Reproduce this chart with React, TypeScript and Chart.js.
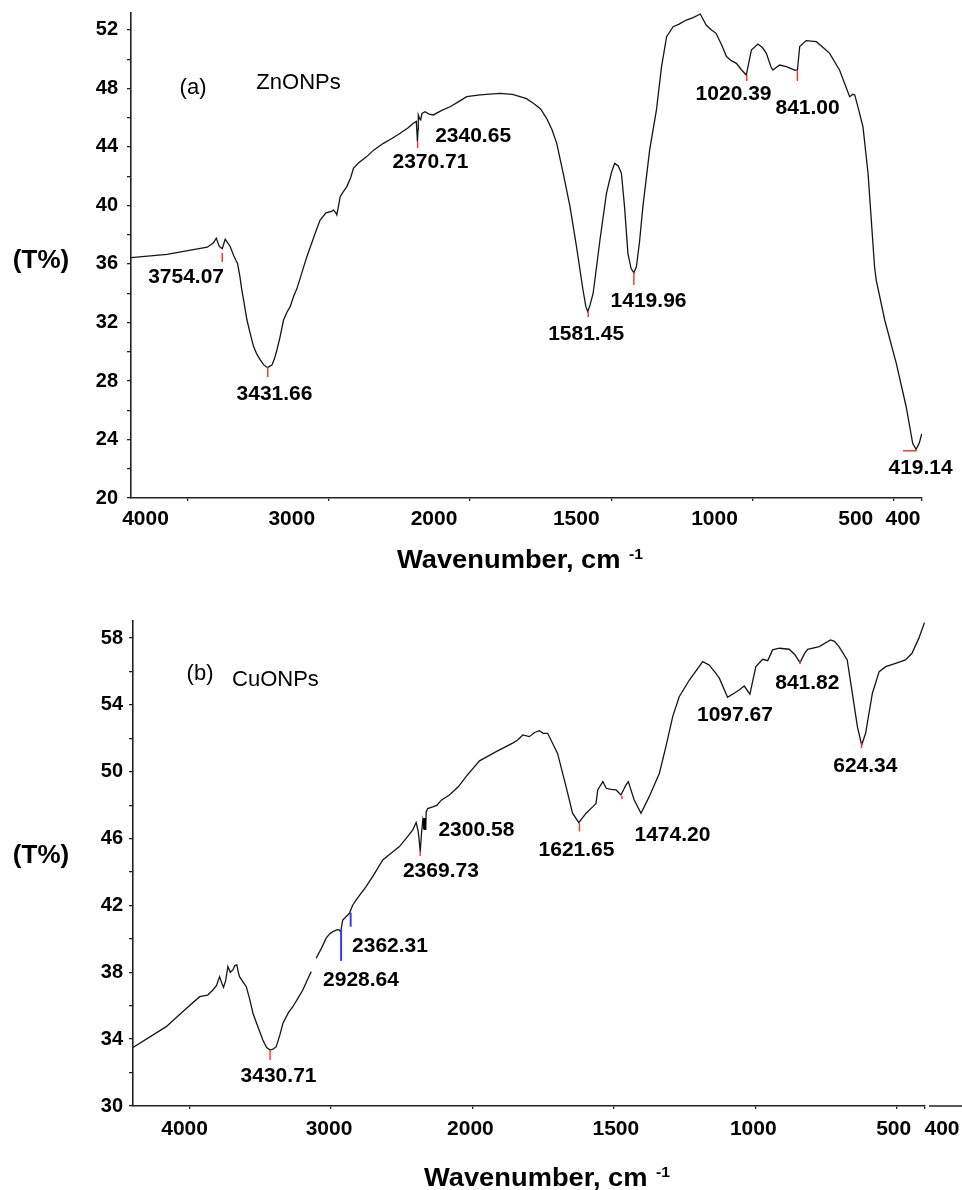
import React, { useEffect, useRef } from 'react';
import { Chart, LinearScale, registerables } from 'chart.js';

Chart.register(...registerables);

// ---------------- shared axis values ----------------
const xTickValues = [4000, 3000, 2000, 1500, 1000, 500, 400];
const xTickLabels = ['4000', '3000', '2000', '1500', '1000', '500', '400'];

// ---------------- (a) ZnONPs ----------------
const znWavenumber = [4400, 4145, 3909, 3860, 3830, 3815, 3796, 3775, 3754, 3733,
  3715, 3697, 3674, 3655, 3646, 3630, 3615, 3603, 3579, 3555,
  3532, 3510, 3485, 3460, 3438, 3431, 3420, 3402, 3385, 3367,
  3345, 3320, 3296, 3273, 3250, 3226, 3200, 3155, 3100, 3061,
  3020, 2980, 2967, 2950, 2943, 2930, 2919, 2900, 2872, 2845,
  2825, 2790, 2731, 2680, 2613, 2550, 2495, 2440, 2401, 2380,
  2372, 2368, 2366, 2355, 2349, 2340, 2318, 2290, 2259, 2200,
  2141, 2080, 2023, 1965, 1894, 1850, 1823, 1800, 1776, 1750,
  1729, 1710, 1693, 1670, 1646, 1623, 1600, 1590, 1583, 1575,
  1564, 1540, 1517, 1500, 1488, 1475, 1464, 1453, 1441, 1430,
  1420, 1411, 1400, 1388, 1364, 1340, 1322, 1304, 1281, 1260,
  1234, 1210, 1185, 1164, 1145, 1129, 1110, 1092, 1075, 1057,
  1040, 1022, 1004, 981, 965, 951, 935, 928, 904, 880,
  851, 841, 833, 810, 774, 750, 727, 692, 656, 645,
  638, 625, 609, 591, 568, 562, 532, 491, 456, 433,
  421, 410, 401];
const znTransmittance = [36.43, 36.66, 37.07, 37.15, 37.35, 37.46, 37.76, 37.2, 37.05, 37.69,
  37.45, 37.18, 36.6, 36.2, 36.05, 35.2, 34.2, 33.54, 32.17, 31.2,
  30.35, 29.85, 29.44, 29.1, 28.94, 28.92, 29.0, 29.09, 29.5, 30.12,
  31.0, 32.17, 32.7, 33.08, 33.76, 34.3, 35.1, 36.5, 38.0, 39.0,
  39.5, 39.6, 39.69, 39.5, 39.35, 40.0, 40.6, 40.9, 41.29, 41.9,
  42.54, 42.9, 43.34, 43.8, 44.25, 44.6, 44.94, 45.3, 45.62, 45.75,
  44.36, 45.2, 46.19, 45.9, 45.85, 46.3, 46.41, 46.25, 46.19, 46.5,
  46.75, 47.1, 47.44, 47.56, 47.67, 47.6, 47.44, 47.3, 46.99, 46.6,
  45.96, 45.2, 44.25, 42.2, 39.92, 37.18, 34.22, 33.1, 32.74, 33.2,
  34.0, 37.64, 40.83, 42.2, 42.88, 42.7, 42.2, 39.92, 36.73, 35.7,
  35.4, 35.81, 37.5, 39.92, 43.8, 46.53, 49.49, 51.54, 52.22, 52.4,
  52.68, 52.85, 53.09, 52.34, 52.0, 51.77, 51.0, 50.18, 49.9, 49.72,
  49.3, 48.92, 50.63, 51.04, 50.8, 50.4, 49.5, 49.26, 49.6, 49.5,
  49.26, 49.25, 50.86, 51.27, 51.2, 50.8, 50.4, 49.26, 47.44, 47.6,
  47.56, 46.6, 45.39, 42.2, 35.81, 34.9, 32.17, 29.21, 26.24, 23.74,
  23.33, 23.74, 24.38];
const znYTicks = [20, 22, 24, 26, 28, 30, 32, 34, 36, 38, 40, 42, 44, 46, 48, 50, 52];
const znYTickLabels = ['20', '', '24', '', '28', '', '32', '', '36', '', '40', '', '44', '', '48', '', '52'];
// peak labels (text, anchor wavenumber, anchor %T)
const znPeakText = ['3754.07', '3431.66', '2370.71', '2340.65', '1581.45', '1419.96', '1020.39', '841.00', '419.14'];
const znPeakTextWn = [4010, 3384, 2280, 1989, 1589, 1368, 1067, 805, 405];
const znPeakTextT = [35.11, 27.08, 42.94, 44.75, 31.18, 33.47, 47.62, 46.63, 22.02];
// peak markers (segment from wnA,TA to wnB,TB)
const znMarkWnA = [3754.07, 3431.66, 2370.71, 1581.45, 1419.96, 1020.39, 841.0, 467];
const znMarkWnB = [3754.07, 3431.66, 2370.71, 1581.45, 1419.96, 1020.39, 841.0, 418];
const znMarkTA = [36.75, 28.96, 44.34, 32.72, 35.45, 48.92, 49.26, 23.23];
const znMarkTB = [36.14, 28.27, 43.93, 32.38, 34.56, 48.51, 48.51, 23.23];
const znMarkColor = ['#ff2a2a', '#ff2a2a', '#ff2a2a', '#ff2a2a', '#ff2a2a', '#ff2a2a', '#ff2a2a', '#ff2a2a'];
const znTitleText = ['(a)', 'ZnONPs'];
const znTitleWn = [3961, 3214];
const znTitleT = [48.03, 48.38];

// ---------------- (b) CuONPs ----------------
const cuWavenumber = [4400, 4165, 4047, 3929, 3872, 3835, 3810, 3788, 3770, 3760,
  3745, 3729, 3712, 3694, 3680, 3666, 3655, 3647, 3620, 3599,
  3575, 3552, 3515, 3482, 3455, 3430, 3410, 3387, 3360, 3340,
  3300, 3270, 3230, 3199, 3170, 3140, 3125, 3105, 3070, 3034,
  3010, 2987, 2955, 2940, 2932, 2928, 2917, 2890, 2870, 2846,
  2822, 2752, 2700, 2634, 2580, 2516, 2460, 2422,
  2398, 2385, 2379, 2369, 2360, 2351, 2345, 2339, 2330, 2327, 2316, 2281,
  2250, 2220, 2163, 2100, 2045, 1975, 1916, 1858, 1840,
  1822, 1799, 1780, 1763, 1750, 1734, 1699, 1669, 1646, 1624,
  1598, 1575, 1563, 1557, 1539, 1527, 1510, 1492, 1475, 1457,
  1449, 1428, 1404, 1375, 1339, 1316, 1292, 1269, 1233, 1186,
  1163, 1140, 1127, 1098, 1075, 1057, 1039, 1019, 998, 974,
  956, 939, 915, 880, 860, 842, 825, 815, 774, 734,
  720, 704, 675, 657, 639, 624, 610, 586, 562, 539,
  504, 469, 446, 422, 402];
const cuTransmittance = [33.5, 34.75, 35.65, 36.54, 36.64, 36.94, 37.2, 37.74, 37.3, 37.1,
  37.5, 38.34, 38.0, 38.14, 38.4, 38.44, 38.0, 37.74, 37.4, 37.14,
  36.4, 35.55, 34.7, 33.95, 33.5, 33.35, 33.4, 33.55, 34.3, 34.95,
  35.6, 35.94, 36.5, 36.94, 37.5, 38.04, null, 38.84, 39.4, 40.04,
  40.3, 40.43, 40.55, 40.53, 40.4, 40.6, 41.13, 41.35, 41.53, 42.03,
  42.33, 43.13, 43.8, 44.72, 45.1, 45.52, 46.1, 46.52,
  46.96, 46.5, 46.11, 45.21, 46.32, 47.11, 46.8, 46.55, 46.55, 47.6, 47.8, 47.9,
  48.0, 48.3, 48.61, 49.1, 49.71, 50.65, 51.2, 51.71, 51.9,
  52.2, 52.1, 52.35, 52.46, 52.3, 52.3, 51.1, 49.11, 47.52, 46.96,
  47.52, 47.9, 48.11, 48.91, 49.41, 49.01, 48.95, 48.91, 48.61, 49.21,
  49.41, 48.31, 47.52, 48.51, 49.91, 51.5, 53.3, 54.49, 55.49, 56.59,
  56.39, 55.9, 55.6, 54.45, 54.7, 54.89, 55.13, 54.64, 56.29, 56.73,
  56.65, 57.29, 57.39, 57.33, 57.0, 56.53, 57.1, 57.33, 57.49, 57.89,
  57.8, 57.49, 56.69, 54.7, 52.7, 51.6, 52.3, 54.7, 55.99, 56.29,
  56.49, 56.69, 57.09, 57.98, 58.92];
const cuYTicks = [30, 32, 34, 36, 38, 40, 42, 44, 46, 48, 50, 52, 54, 56, 58];
const cuYTickLabels = ['30', '', '34', '', '38', '', '42', '', '46', '', '50', '', '54', '', '58'];
const cuPeakText = ['3430.71', '2928.64', '2362.31', '2369.73', '2300.58', '1621.65', '1474.20', '1097.67', '841.82', '624.34'];
const cuPeakTextWn = [3371, 2788, 2583, 2223, 1986, 1632, 1293, 1072, 816, 611];
const cuPeakTextT = [31.77, 37.54, 39.54, 44.03, 46.51, 45.32, 46.18, 53.36, 55.28, 50.34];
const cuMarkWnA = [3430.71, 2928.64, 2861, 2369.73, 2339, 1621.65, 1471.5, 841.82, 624.34];
const cuMarkWnB = [3430.71, 2928.64, 2861, 2369.73, 2339, 1621.65, 1471.5, 841.82, 624.34];
const cuMarkTA = [33.35, 40.53, 41.57, 45.26, 47.23, 46.93, 48.55, 56.68, 51.72];
const cuMarkTB = [32.75, 38.68, 40.73, 44.96, 46.55, 46.43, 48.37, 56.44, 51.42];
const cuMarkColor = ['#ff2a2a', '#3a3aff', '#3a3aff', '#ff2a2a', '#000000', '#ff2a2a', '#ff2a2a', '#ff2a2a', '#ff2a2a'];
const cuTitleText = ['(b)', 'CuONPs'];
const cuTitleWn = [3926, 3393];
const cuTitleT = [55.88, 55.49];

// ---------------- FTIR axis: 2x compressed above 2000 cm-1 ----------------
const warp = (w: number) => (w > 2000 ? 2000 + (w - 2000) / 2 : w);
const unwarp = (u: number) => (u > 2000 ? 2000 + (u - 2000) * 2 : u);

class FtirScale extends LinearScale {
  static id = 'ftir';
  static defaults = LinearScale.defaults;
  getPixelForValue(value: any) {
    if (value === null || value === undefined || Number.isNaN(value)) return NaN;
    const a = warp(this.min);
    const b = warp(this.max);
    return this.getPixelForDecimal((warp(value) - a) / (b - a));
  }
  getValueForPixel(pixel: number) {
    const a = warp(this.min);
    const b = warp(this.max);
    return unwarp(a + this.getDecimalForPixel(pixel) * (b - a));
  }
}
Chart.register(FtirScale);

const FONT = '"Liberation Sans", Arial, Helvetica, sans-serif';

const panelA = {
  key: 'a',
  wn: znWavenumber, t: znTransmittance,
  yMin: 20, yMax: 53.16, yTicks: znYTicks, yTickLabels: znYTickLabels,
  peakText: znPeakText, peakWn: znPeakTextWn, peakT: znPeakTextT,
  markWnA: znMarkWnA, markWnB: znMarkWnB, markTA: znMarkTA, markTB: znMarkTB, markColor: znMarkColor,
  titleText: znTitleText, titleWn: znTitleWn, titleT: znTitleT,
  style: {
    padTop: 13, padRight: 40, yAxisWidth: 131, xAxisHeight: 97, yTickPad: 9,
    xLabelShift: [-42, -37, -36, -35, -38, -38, -19], xLabelBaseline: 525,
    yTitleY: 261, xTitleX: 397, xTitleBaseline: 568, axisExtension: false,
  },
};
const panelB = {
  key: 'b',
  wn: cuWavenumber, t: cuTransmittance,
  yMin: 30, yMax: 59.02, yTicks: cuYTicks, yTickLabels: cuYTickLabels,
  peakText: cuPeakText, peakWn: cuPeakTextWn, peakT: cuPeakTextT,
  markWnA: cuMarkWnA, markWnB: cuMarkWnB, markTA: cuMarkTA, markTB: cuMarkTB, markColor: cuMarkColor,
  titleText: cuTitleText, titleWn: cuTitleWn, titleT: cuTitleT,
  style: {
    padTop: 26, padRight: 37, yAxisWidth: 133, xAxisHeight: 84, yTickPad: 6,
    xLabelShift: [-5, -2, -2, 2, -2, -3, 17], xLabelBaseline: 540,
    yTitleY: 261, xTitleX: 424, xTitleBaseline: 591, axisExtension: true,
  },
};

function decorPlugin(p: any) {
  return {
    id: 'decor_' + p.key,
    afterDraw(chart: any) {
      const ctx = chart.ctx;
      const xs = chart.scales.x;
      const ys = chart.scales.y;
      const area = chart.chartArea;
      const s = p.style;
      ctx.save();

      // x tick labels
      ctx.fillStyle = '#000';
      ctx.font = `bold 21px ${FONT}`;
      ctx.textAlign = 'center';
      ctx.textBaseline = 'alphabetic';
      xTickValues.forEach((v, i) => {
        ctx.fillText(xTickLabels[i], xs.getPixelForValue(v) + s.xLabelShift[i], s.xLabelBaseline);
      });

      // axis extension beyond the break (panel b)
      if (s.axisExtension) {
        ctx.strokeStyle = '#222';
        ctx.lineWidth = 1.5;
        ctx.beginPath();
        ctx.moveTo(area.right + 4, area.bottom);
        ctx.lineTo(chart.width, area.bottom);
        ctx.stroke();
      }

      // peak markers
      p.markWnA.forEach((w: number, i: number) => {
        const c = p.markColor[i];
        ctx.strokeStyle = c;
        ctx.lineWidth = c === '#000000' ? 3 : (c === '#3a3aff' ? 2 : 1.4);
        ctx.beginPath();
        ctx.moveTo(xs.getPixelForValue(w), ys.getPixelForValue(p.markTA[i]));
        ctx.lineTo(xs.getPixelForValue(p.markWnB[i]), ys.getPixelForValue(p.markTB[i]));
        ctx.stroke();
      });

      // peak labels
      ctx.fillStyle = '#000';
      ctx.font = `bold 21px ${FONT}`;
      ctx.textAlign = 'center';
      ctx.textBaseline = 'middle';
      p.peakText.forEach((txt: string, i: number) => {
        ctx.fillText(txt, xs.getPixelForValue(p.peakWn[i]), ys.getPixelForValue(p.peakT[i]));
      });

      // sample titles
      ctx.font = `22px ${FONT}`;
      p.titleText.forEach((txt: string, i: number) => {
        ctx.fillText(txt, xs.getPixelForValue(p.titleWn[i]), ys.getPixelForValue(p.titleT[i]));
      });

      // y axis title
      ctx.font = `bold 26px ${FONT}`;
      ctx.fillText('(T%)', 41, s.yTitleY);

      // x axis title with superscript
      ctx.textAlign = 'left';
      ctx.textBaseline = 'alphabetic';
      ctx.save();
      ctx.translate(s.xTitleX, s.xTitleBaseline);
      ctx.scale(1.05, 1);
      ctx.font = `bold 26px ${FONT}`;
      const main = 'Wavenumber, cm';
      ctx.fillText(main, 0, 0);
      const wMain = ctx.measureText(main).width;
      ctx.font = `bold 15px ${FONT}`;
      ctx.fillText('-1', wMain + 8, -9);
      ctx.restore();

      ctx.restore();
    },
  };
}

function buildConfig(p: any): any {
  const s = p.style;
  return {
    type: 'line',
    data: {
      datasets: [{
        data: p.wn.map((x: number, i: number) => ({ x, y: p.t[i] })),
        borderColor: '#151515',
        borderWidth: 1.3,
        pointRadius: 0,
        tension: 0,
        fill: false,
        spanGaps: false,
      }],
    },
    options: {
      animation: false,
      responsive: false,
      events: [],
      layout: { padding: { left: 0, top: s.padTop, right: s.padRight, bottom: 0 } },
      plugins: { legend: { display: false }, tooltip: { enabled: false }, title: { display: false } },
      scales: {
        x: {
          type: 'ftir',
          reverse: true,
          min: 400,
          max: 4400,
          afterBuildTicks: (sc: any) => { sc.ticks = xTickValues.map((v) => ({ value: v })); },
          afterFit: (sc: any) => { sc.height = s.xAxisHeight; sc.paddingLeft = 0; sc.paddingRight = 0; },
          ticks: { display: false },
          grid: { display: true, drawOnChartArea: false, drawTicks: true, tickLength: 3, color: '#222', lineWidth: 1.3 },
          border: { display: true, color: '#222', width: 1.6 },
        },
        y: {
          type: 'linear',
          min: p.yMin,
          max: p.yMax,
          afterBuildTicks: (sc: any) => { sc.ticks = p.yTicks.map((v: number) => ({ value: v })); },
          afterFit: (sc: any) => { sc.width = s.yAxisWidth; sc.paddingTop = 0; sc.paddingBottom = 0; },
          ticks: {
            autoSkip: false,
            padding: s.yTickPad,
            color: '#000',
            font: { family: FONT, size: 20, weight: 'bold' },
            callback: (_v: any, i: number) => p.yTickLabels[i],
          },
          grid: { display: true, drawOnChartArea: false, drawTicks: true, tickLength: 4, color: '#222', lineWidth: 1.3 },
          border: { display: true, color: '#222', width: 1.6 },
        },
      },
    },
    plugins: [decorPlugin(p)],
  };
}

export default function App() {
  const refA = useRef<HTMLCanvasElement>(null);
  const refB = useRef<HTMLCanvasElement>(null);
  useEffect(() => {
    const a = new Chart(refA.current as HTMLCanvasElement, buildConfig(panelA));
    const b = new Chart(refB.current as HTMLCanvasElement, buildConfig(panelB));
    return () => { a.destroy(); b.destroy(); };
  }, []);
  return (
    <div style={{ position: 'absolute', left: 0, top: 0, width: 962, height: 1190, background: '#fff' }}>
      <canvas ref={refA} width={962} height={595} style={{ display: 'block' }} />
      <canvas ref={refB} width={962} height={595} style={{ display: 'block' }} />
    </div>
  );
}
